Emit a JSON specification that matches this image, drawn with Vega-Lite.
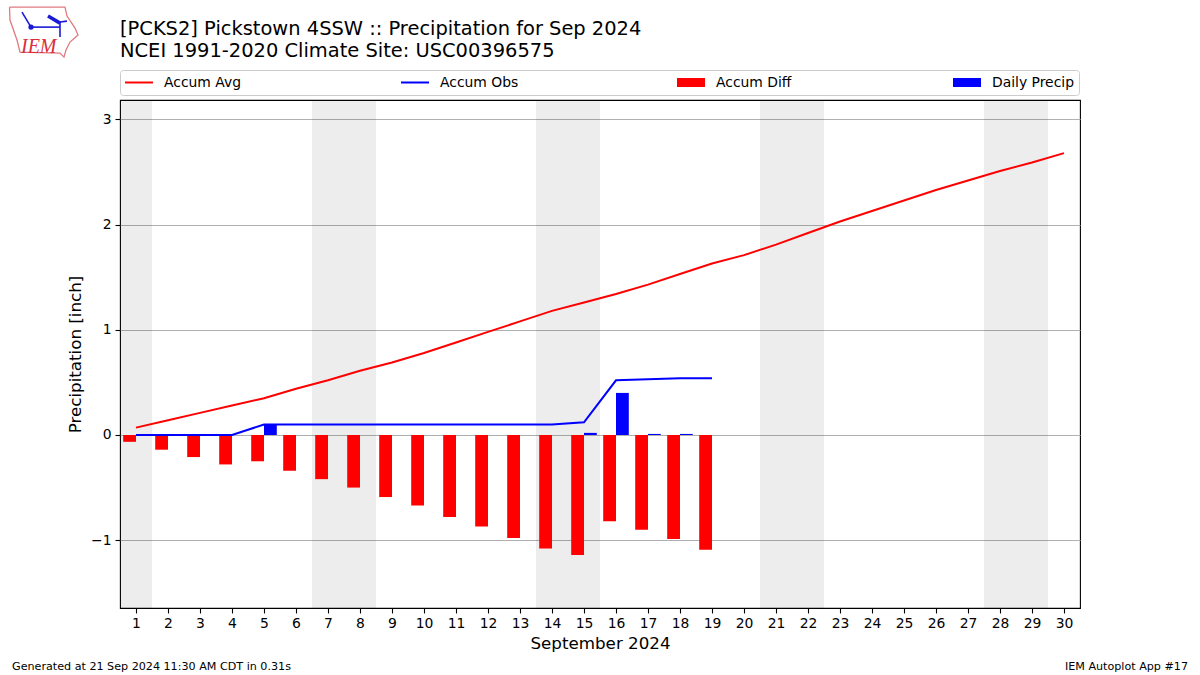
{
"$schema":"https://vega.github.io/schema/vega-lite/v6.json",
"width":960,"height":508,
"autosize":{"type":"none"},
"padding":{"left":120,"top":100,"right":120,"bottom":67},
"background":"white",
"config":{"font":"DejaVu Sans","view":{"stroke":"black","strokeWidth":1.1}},
"title":{"text":["[PCKS2] Pickstown 4SSW :: Precipitation for Sep 2024","NCEI 1991-2020 Climate Site: USC00396575"],"anchor":"start","frame":"group","fontSize":19.45,"fontWeight":"normal","lineHeight":22,"offset":-57,"color":"black"},
"datasets":{
"series":[
{"series":"Accum Avg","day":1,"value":0.07},{"series":"Accum Avg","day":2,"value":0.14},{"series":"Accum Avg","day":3,"value":0.21},{"series":"Accum Avg","day":4,"value":0.28},{"series":"Accum Avg","day":5,"value":0.35},{"series":"Accum Avg","day":6,"value":0.44},{"series":"Accum Avg","day":7,"value":0.52},{"series":"Accum Avg","day":8,"value":0.61},{"series":"Accum Avg","day":9,"value":0.69},{"series":"Accum Avg","day":10,"value":0.78},{"series":"Accum Avg","day":11,"value":0.88},{"series":"Accum Avg","day":12,"value":0.98},{"series":"Accum Avg","day":13,"value":1.08},{"series":"Accum Avg","day":14,"value":1.18},{"series":"Accum Avg","day":15,"value":1.26},{"series":"Accum Avg","day":16,"value":1.34},{"series":"Accum Avg","day":17,"value":1.43},{"series":"Accum Avg","day":18,"value":1.53},{"series":"Accum Avg","day":19,"value":1.63},{"series":"Accum Avg","day":20,"value":1.71},{"series":"Accum Avg","day":21,"value":1.81},{"series":"Accum Avg","day":22,"value":1.92},{"series":"Accum Avg","day":23,"value":2.03},{"series":"Accum Avg","day":24,"value":2.13},{"series":"Accum Avg","day":25,"value":2.23},{"series":"Accum Avg","day":26,"value":2.33},{"series":"Accum Avg","day":27,"value":2.42},{"series":"Accum Avg","day":28,"value":2.51},{"series":"Accum Avg","day":29,"value":2.59},{"series":"Accum Avg","day":30,"value":2.68},
{"series":"Accum Obs","day":1,"value":0},{"series":"Accum Obs","day":2,"value":0},{"series":"Accum Obs","day":3,"value":0},{"series":"Accum Obs","day":4,"value":0},{"series":"Accum Obs","day":5,"value":0.1},{"series":"Accum Obs","day":6,"value":0.1},{"series":"Accum Obs","day":7,"value":0.1},{"series":"Accum Obs","day":8,"value":0.1},{"series":"Accum Obs","day":9,"value":0.1},{"series":"Accum Obs","day":10,"value":0.1},{"series":"Accum Obs","day":11,"value":0.1},{"series":"Accum Obs","day":12,"value":0.1},{"series":"Accum Obs","day":13,"value":0.1},{"series":"Accum Obs","day":14,"value":0.1},{"series":"Accum Obs","day":15,"value":0.12},{"series":"Accum Obs","day":16,"value":0.52},{"series":"Accum Obs","day":17,"value":0.53},{"series":"Accum Obs","day":18,"value":0.54},{"series":"Accum Obs","day":19,"value":0.54},
{"series":"Accum Diff","day":1,"value":-0.065},{"series":"Accum Diff","day":2,"value":-0.14},{"series":"Accum Diff","day":3,"value":-0.21},{"series":"Accum Diff","day":4,"value":-0.28},{"series":"Accum Diff","day":5,"value":-0.25},{"series":"Accum Diff","day":6,"value":-0.34},{"series":"Accum Diff","day":7,"value":-0.42},{"series":"Accum Diff","day":8,"value":-0.5},{"series":"Accum Diff","day":9,"value":-0.59},{"series":"Accum Diff","day":10,"value":-0.67},{"series":"Accum Diff","day":11,"value":-0.78},{"series":"Accum Diff","day":12,"value":-0.87},{"series":"Accum Diff","day":13,"value":-0.98},{"series":"Accum Diff","day":14,"value":-1.08},{"series":"Accum Diff","day":15,"value":-1.14},{"series":"Accum Diff","day":16,"value":-0.82},{"series":"Accum Diff","day":17,"value":-0.9},{"series":"Accum Diff","day":18,"value":-0.99},{"series":"Accum Diff","day":19,"value":-1.09},
{"series":"Daily Precip","day":5,"value":0.1},{"series":"Daily Precip","day":15,"value":0.02},{"series":"Daily Precip","day":16,"value":0.4},{"series":"Daily Precip","day":17,"value":0.01},{"series":"Daily Precip","day":18,"value":0.01}
],
"weekends":[{"day":0.5,"end":1.5,"value":-1.645,"top":3.185},{"day":6.5,"end":8.5,"value":-1.645,"top":3.185},{"day":13.5,"end":15.5,"value":-1.645,"top":3.185},{"day":20.5,"end":22.5,"value":-1.645,"top":3.185},{"day":27.5,"end":29.5,"value":-1.645,"top":3.185}],
"logo":[
{"part":"outline","order":1,"day":-2.953,"value":4.068},{"part":"outline","order":2,"day":-1.219,"value":4.068},{"part":"outline","order":3,"day":-1.156,"value":3.983},{"part":"outline","order":4,"day":-0.906,"value":3.869},{"part":"outline","order":5,"day":-0.813,"value":3.802},{"part":"outline","order":6,"day":-1.063,"value":3.736},{"part":"outline","order":7,"day":-1.188,"value":3.66},{"part":"outline","order":8,"day":-1.25,"value":3.593},{"part":"outline","order":9,"day":-1.375,"value":3.631},{"part":"outline","order":10,"day":-2.625,"value":3.641},{"part":"outline","order":11,"day":-2.719,"value":3.755},{"part":"outline","order":12,"day":-2.938,"value":3.945},{"part":"outline","order":13,"day":-2.953,"value":4.068}
],
"wind":[
{"part":"a","order":1,"day":-2.563,"value":4.021},{"part":"a","order":2,"day":-2.281,"value":3.878},
{"part":"b","order":1,"day":-2.281,"value":3.878},{"part":"b","order":2,"day":-1.375,"value":3.878},
{"part":"d","order":1,"day":-1.375,"value":3.926},{"part":"d","order":2,"day":-1.375,"value":3.783},
{"part":"e","order":1,"day":-1.375,"value":3.926},{"part":"e","order":2,"day":-1.156,"value":3.935}
],
"vane":[
{"part":"c","order":1,"day":-1.75,"value":3.983},{"part":"c","order":2,"day":-1.375,"value":3.916}
],
"notes":[
{"text":"Generated at 21 Sep 2024 11:30 AM CDT in 0.31s","day":-2.875,"value":-2.234},
{"text":"IEM Autoplot App #17","day":33.875,"value":-2.234}
]
},
"encoding":{
"x":{"field":"day","type":"quantitative","scale":{"domain":[0.5,30.5],"nice":false,"zero":false,"padding":0},
"axis":{"values":[1,2,3,4,5,6,7,8,9,10,11,12,13,14,15,16,17,18,19,20,21,22,23,24,25,26,27,28,29,30],"format":"d","grid":false,"title":"September 2024","titleFontSize":16.7,"titleFontWeight":"normal","titleColor":"black","titlePadding":6,"labelFontSize":13.9,"labelColor":"black","labelPadding":3,"labelFlush":false,"labelOverlap":false,"tickColor":"black","tickSize":5,"tickWidth":1.1,"domain":false}},
"y":{"field":"value","type":"quantitative","scale":{"domain":[-1.645,3.185],"nice":false,"zero":false},
"axis":{"values":[-1,0,1,2,3],"format":"d","grid":true,"gridColor":"#b0b0b0","gridWidth":1.1,"title":"Precipitation [inch]","titleFontSize":16.7,"titleFontWeight":"normal","titleColor":"black","titlePadding":6,"labelFontSize":13.9,"labelColor":"black","labelPadding":4,"tickColor":"black","tickSize":5,"tickWidth":1.1,"domain":false}}
},
"layer":[
{"data":{"name":"weekends"},"mark":{"type":"rect","fill":"#000000","fillOpacity":0.07},
"encoding":{"x2":{"field":"end"},"y2":{"field":"top"}}},
{"data":{"name":"series"},"transform":[{"filter":"datum.series==='Accum Diff'||datum.series==='Daily Precip'"}],
"mark":{"type":"bar","orient":"vertical","width":12.8,"xOffset":{"expr":"datum.value<0?-6.4:6.4"}},
"encoding":{"y2":{"datum":0},"color":{"field":"series","type":"nominal","scale":{"domain":["Accum Avg","Accum Obs","Accum Diff","Daily Precip"],"range":["#ff0000","#0000ff","#ff0000","#0000ff"]}}}},
{"data":{"name":"series"},"transform":[{"filter":"datum.series==='Accum Avg'||datum.series==='Accum Obs'"}],
"mark":{"type":"line","strokeWidth":2},
"encoding":{"color":{"field":"series","type":"nominal","scale":{"domain":["Accum Avg","Accum Obs","Accum Diff","Daily Precip"],"range":["#ff0000","#0000ff","#ff0000","#0000ff"]}}}},
{"data":{"name":"series"},"transform":[{"filter":"datum.day===0"}],
"mark":{"type":"point","filled":true,"opacity":1},
"encoding":{
"color":{"field":"series","type":"nominal","scale":{"domain":["Accum Avg","Accum Obs","Accum Diff","Daily Precip"],"range":["#ff0000","#0000ff","#ff0000","#0000ff"]},
"legend":{"title":null,"orient":"none","legendX":0,"legendY":-30,"direction":"horizontal","columns":4,"gridAlign":"all","columnPadding":155,"padding":5,"symbolSize":784,"symbolOffset":0,"symbolOpacity":1,"symbolFillColor":null,"labelOffset":11,"labelFontSize":13.9,"labelColor":"black","strokeColor":"#cccccc","fillColor":"white","cornerRadius":3,"symbolStrokeWidth":0,"clipHeight":15}},
"shape":{"field":"series","type":"nominal","legend":{"title":null},"scale":{"domain":["Accum Avg","Accum Obs","Accum Diff","Daily Precip"],"range":["M-1,-0.07H1V0.07H-1Z","M-1,-0.07H1V0.07H-1Z","M-1,-0.32H1V0.32H-1Z","M-1,-0.32H1V0.32H-1Z"]}}
}},
{"data":{"name":"logo"},"mark":{"type":"line","color":"#e07a80","strokeWidth":1.3},"encoding":{"order":{"field":"order"},"detail":{"field":"part"}}},
{"data":{"name":"wind"},"mark":{"type":"line","color":"#1a1ad6","strokeWidth":1.6},"encoding":{"order":{"field":"order"},"detail":{"field":"part"}}},
{"data":{"name":"vane"},"mark":{"type":"line","color":"#1a1ad6","strokeWidth":3.5},"encoding":{"order":{"field":"order"},"detail":{"field":"part"}}},
{"data":{"values":[{"day":-2.281,"value":3.878}]},"mark":{"type":"point","filled":true,"color":"#1a1ad6","opacity":1,"size":28}},
{"data":{"values":[{"text":"IEM","day":-2.594,"value":3.631}]},"mark":{"type":"text","align":"left","baseline":"alphabetic","font":"Liberation Serif","fontStyle":"italic","fontSize":20,"color":"#d7303a"},"encoding":{"text":{"field":"text"}}},
{"data":{"name":"notes"},"mark":{"type":"text","baseline":"alphabetic","fontSize":11.15,"color":"black","align":{"expr":"datum.day<0?'left':'right'"}},"encoding":{"text":{"field":"text"}}}
]
}
